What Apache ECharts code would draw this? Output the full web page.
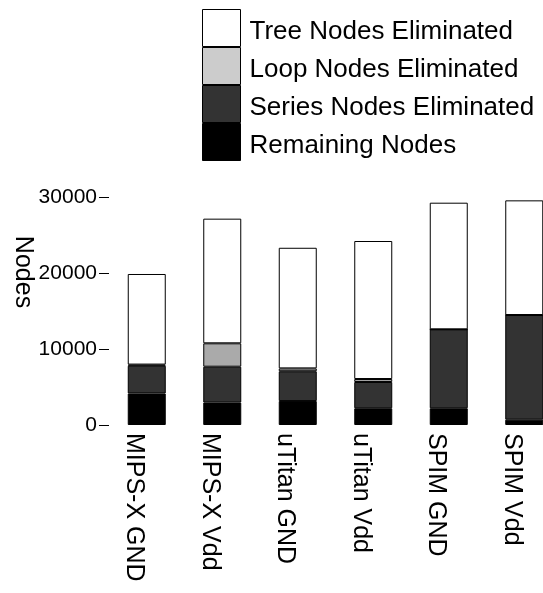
<!DOCTYPE html>
<html><head><meta charset="utf-8">
<script src="https://cdn.jsdelivr.net/npm/echarts@6/dist/echarts.min.js"></script>
<style>html,body{margin:0;padding:0;background:#fff;overflow:hidden;width:543px;height:593px}#c{width:562px;height:593px}</style>
</head><body><div id="c"></div>
<script>
const categories = ['MIPS-X GND','MIPS-X Vdd','uTitan GND','uTitan Vdd','SPIM GND','SPIM Vdd'];
const remainingNodes = [4150, 2950, 3150, 2200, 2200, 700];
const seriesNodes = [3650, 4720, 3920, 3460, 10390, 13770];
const loopNodes = [150, 3080, 380, 390, 0, 0];
const treeNodes = [11920, 16400, 15870, 18160, 16660, 15090];
const yTicks = [0, 10000, 20000, 30000];
const seriesNames = ['Remaining Nodes','Series Nodes Eliminated','Loop Nodes Eliminated','Tree Nodes Eliminated'];

const FONT = '"Liberation Sans", Arial, Helvetica, sans-serif';
const chart = echarts.init(document.getElementById('c'), null, {renderer:'canvas'});
const colors = ['#000000','#333333','#aaaaaa','#ffffff'];
const legendColors = ['#000000','#333333','#cccccc','#ffffff'];
const values = [remainingNodes, seriesNodes, loopNodes, treeNodes];

chart.setOption({
  animation:false,
  backgroundColor:'#fff',
  grid:{left:109, right:0, top:197, bottom:168, containLabel:false},
  legend:{
    orient:'vertical', left:197, top:4, itemWidth:38, itemHeight:37, itemGap:0,
    icon:'rect', selectedMode:false,
    formatter:'{t|{name}}',
    textStyle:{fontFamily:FONT, fontSize:26, color:'#000',
      rich:{t:{fontFamily:FONT, fontSize:26, color:'#000', padding:[8,0,0,4]}}},
    data:[3,2,1,0].map(i=>({name:seriesNames[i], itemStyle:{color:legendColors[i], borderColor:'#000', borderWidth:1}}))
  },
  xAxis:{
    type:'category', data:categories,
    axisLine:{show:false}, axisTick:{show:false},
    axisLabel:{rotate:-90, margin:8, fontFamily:FONT, fontSize:25, color:'#000', verticalAlign:'top', interval:0}
  },
  yAxis:{
    type:'value', min:yTicks[0], max:yTicks[yTicks.length-1], interval:10000,
    axisLine:{show:false}, splitLine:{show:false},
    axisTick:{show:true, length:10, inside:false, lineStyle:{color:'#000', width:1}},
    axisLabel:{margin:12, fontFamily:FONT, fontSize:21, color:'#000', formatter:v=>String(v)}
  },
  graphic:[{type:'text', x:23, y:272, rotation:-Math.PI/2,
    style:{text:'Nodes', font:'25px '+FONT, fill:'#000', textAlign:'center', textVerticalAlign:'middle'}}],
  series: seriesNames.map((n,i)=>({
    name:n, type:'bar', stack:'all', barWidth:38, data:values[i],
    itemStyle:{color:colors[i], borderColor:'#000', borderWidth:1}
  }))
});
</script></body></html>
